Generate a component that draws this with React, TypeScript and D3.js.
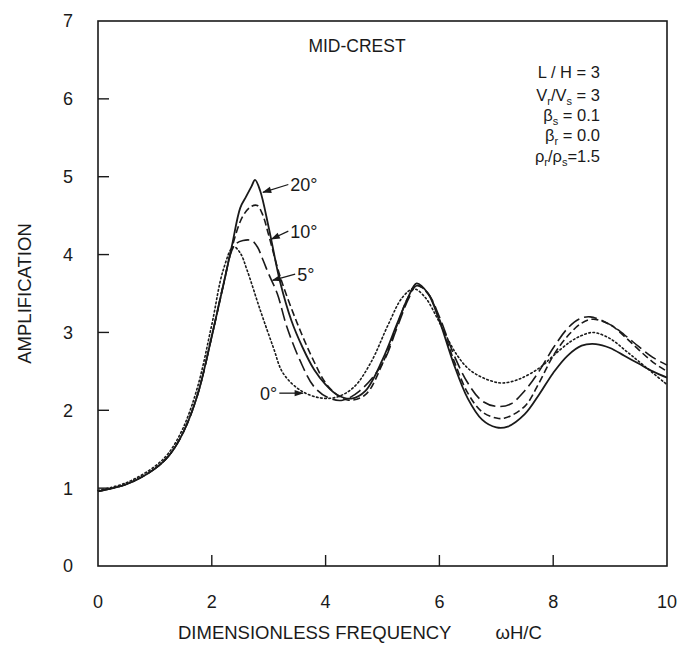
import React from "react";
import * as d3 from "d3";

const W = 681;
const H = 648;
const M = { left: 98, right: 14, top: 21, bottom: 82 };

const xTicks = [0, 2, 4, 6, 8, 10];
const yTicks = [0, 1, 2, 3, 4, 5, 6, 7];

// 20 degrees (solid)
const f20 = [0, 0.5, 1.0, 1.25, 1.5, 1.75, 2.0, 2.2, 2.35, 2.5, 2.6, 2.7, 2.76, 2.85, 3.0, 3.2, 3.4, 3.6, 3.8, 4.0, 4.2, 4.45, 4.7, 5.0, 5.25, 5.45, 5.6, 5.8, 6.0, 6.25, 6.5, 6.75, 7.0, 7.2, 7.5, 7.75, 8.0, 8.25, 8.5, 8.75, 9.0, 9.25, 9.5, 9.75, 10];
const a20 = [0.96, 1.05, 1.25, 1.42, 1.72, 2.2, 2.95, 3.6, 4.1, 4.6, 4.74, 4.88, 4.96, 4.82, 4.35, 3.65, 3.15, 2.8, 2.52, 2.33, 2.2, 2.15, 2.25, 2.65, 3.1, 3.45, 3.63, 3.5, 3.15, 2.6, 2.15, 1.88, 1.78, 1.79, 1.95, 2.2, 2.48, 2.7, 2.83, 2.85, 2.8, 2.7, 2.6, 2.5, 2.42];

// 10 degrees (short dash)
const f10 = [0, 0.5, 1.0, 1.25, 1.5, 1.75, 2.0, 2.2, 2.35, 2.55, 2.7, 2.8, 2.9, 3.0, 3.2, 3.5, 3.8, 4.0, 4.2, 4.4, 4.7, 5.0, 5.25, 5.45, 5.6, 5.8, 6.0, 6.25, 6.5, 6.75, 7.0, 7.15, 7.5, 7.75, 8.0, 8.25, 8.5, 8.7, 9.0, 9.25, 9.5, 9.75, 10];
const a10 = [0.96, 1.05, 1.25, 1.42, 1.72, 2.2, 2.95, 3.6, 4.08, 4.5, 4.62, 4.63, 4.5, 4.25, 3.72, 3.12, 2.62, 2.35, 2.2, 2.13, 2.2, 2.6, 3.08, 3.45, 3.61, 3.5, 3.17, 2.65, 2.22, 1.98, 1.9, 1.9, 2.05, 2.35, 2.7, 2.95, 3.12, 3.17, 3.1, 2.95, 2.78, 2.62, 2.5];

// 5 degrees (long dash)
const f5 = [0, 0.5, 1.0, 1.25, 1.5, 1.75, 2.0, 2.2, 2.4, 2.55, 2.7, 2.8, 2.9, 3.0, 3.15, 3.32, 3.55, 3.8, 4.05, 4.3, 4.6, 5.0, 5.25, 5.45, 5.6, 5.8, 6.0, 6.25, 6.5, 6.75, 7.0, 7.25, 7.5, 7.75, 8.0, 8.25, 8.45, 8.65, 9.0, 9.25, 9.5, 9.75, 10];
const a5 = [0.96, 1.05, 1.25, 1.42, 1.72, 2.2, 2.95, 3.6, 4.12, 4.18, 4.18, 4.1, 3.93, 3.75, 3.5, 3.07, 2.64, 2.3, 2.16, 2.13, 2.25, 2.6, 3.05, 3.42, 3.6, 3.5, 3.2, 2.72, 2.35, 2.12, 2.05, 2.08, 2.25, 2.5, 2.8, 3.05, 3.17, 3.2, 3.1, 2.97, 2.82, 2.68, 2.58];

// 0 degrees (dotted)
const f0 = [0, 0.5, 1.0, 1.25, 1.5, 1.75, 2.0, 2.2, 2.38, 2.5, 2.62, 2.85, 3.08, 3.25, 3.55, 3.9, 4.2, 4.5, 4.8, 5.1, 5.35, 5.55, 5.75, 5.95, 6.1, 6.3, 6.5, 6.7, 6.9, 7.1, 7.4, 7.77, 8.0, 8.3, 8.5, 8.7, 9.0, 9.3, 9.6, 10];
const a0 = [0.97, 1.07, 1.28, 1.46, 1.78, 2.3, 3.1, 3.8, 4.1, 4.02, 3.8, 3.29, 2.81, 2.48, 2.26, 2.16, 2.17, 2.3, 2.62, 3.1, 3.45, 3.56, 3.45, 3.2, 2.98, 2.72, 2.54, 2.44, 2.38, 2.35, 2.4, 2.55, 2.7, 2.88, 2.96, 3.0, 2.92, 2.75, 2.57, 2.33];

const seriesNames = ["20°", "10°", "5°", "0°"];
const seriesFreq = [f20, f10, f5, f0];
const seriesAmp = [a20, a10, a5, a0];
const seriesDash = ["none", "7,3.5", "13,5", "1.6,2.6"];

// curve label anchors: [label x, label y, arrow tip x, arrow tip y] in data units
const labelX = [3.38, 3.38, 3.5, 2.8];
const labelY = [4.9, 4.3, 3.75, 2.22];
const tipX = [2.9, 3.05, 3.07, 3.6];
const tipY = [4.8, 4.2, 3.67, 2.22];

const FONT = "'Liberation Sans', Arial, Helvetica, sans-serif";

export default function App() {
  const x = d3.scaleLinear().domain([0, 10]).range([M.left, W - M.right]);
  const y = d3.scaleLinear().domain([0, 7]).range([H - M.bottom, M.top]);

  const line = d3
    .line<[number, number]>()
    .x((d) => x(d[0]))
    .y((d) => y(d[1]))
    .curve(d3.curveCatmullRom.alpha(0.5));

  const ink = "#1a1a1a";

  return (
    <svg
      width={W}
      height={H}
      style={{ position: "absolute", left: 0, top: 0, background: "#fff" }}
      fontFamily={FONT}
    >
      <defs>
        <marker id="ah" viewBox="0 0 10 10" refX="9" refY="5" markerWidth="9" markerHeight="7" orient="auto">
          <path d="M0,1.5 L10,5 L0,8.5 Z" fill={ink} />
        </marker>
      </defs>
      <rect x={0} y={0} width={W} height={H} fill="#fff" />

      {/* frame */}
      <rect
        x={x(0)}
        y={y(7)}
        width={x(10) - x(0)}
        height={y(0) - y(7)}
        fill="none"
        stroke={ink}
        strokeWidth={1.6}
      />

      {/* ticks */}
      {yTicks.filter((t) => t > 0 && t < 7).map((t) => (
        <line key={"yt" + t} x1={x(0)} x2={x(0) + 11} y1={y(t)} y2={y(t)} stroke={ink} strokeWidth={1.4} />
      ))}
      {xTicks.filter((t) => t > 0 && t < 10).map((t) => (
        <line key={"xt" + t} x1={x(t)} x2={x(t)} y1={y(0)} y2={y(0) - 11} stroke={ink} strokeWidth={1.4} />
      ))}

      {/* tick labels */}
      {yTicks.map((t) => (
        <text key={"yl" + t} x={68} y={y(t)} dy="0.36em" textAnchor="middle" fontSize={18} fill={ink}>
          {t}
        </text>
      ))}
      {xTicks.map((t) => (
        <text key={"xl" + t} x={x(t)} y={602} dy="0.36em" textAnchor="middle" fontSize={18} fill={ink}>
          {t}
        </text>
      ))}

      {/* axis titles */}
      <text
        transform={`translate(24, ${(y(0) + y(7)) / 2}) rotate(-90)`}
        textAnchor="middle"
        dy="0.36em"
        fontSize={18.5}
        fill={ink}
      >
        AMPLIFICATION
      </text>
      <text x={178} y={639} fontSize={18.5} fill={ink}>
        DIMENSIONLESS FREQUENCY
        <tspan dx={44}>ωH/C</tspan>
      </text>

      {/* curves */}
      {seriesFreq.map((fs, i) => {
        const pts: [number, number][] = fs.map((f, k) => [f, seriesAmp[i][k]]);
        return (
          <path
            key={seriesNames[i]}
            d={line(pts) || ""}
            fill="none"
            stroke={ink}
            strokeWidth={i === 0 ? 1.8 : 1.6}
            strokeDasharray={seriesDash[i]}
            strokeLinecap={i === 3 ? "round" : "butt"}
          />
        );
      })}

      {/* curve labels with arrows */}
      {seriesNames.map((n, i) => {
        const lx = x(labelX[i]);
        const ly = y(labelY[i]);
        const tx = x(tipX[i]);
        const ty = y(tipY[i]);
        const right = i === 3;
        return (
          <g key={"lab" + n}>
            <line
              x1={right ? lx + 22 : lx - 2}
              y1={ly}
              x2={tx}
              y2={ty}
              stroke={ink}
              strokeWidth={1.3}
              markerEnd="url(#ah)"
            />
            <text x={right ? lx + 20 : lx} y={ly} dy="0.36em" textAnchor={right ? "end" : "start"} fontSize={18} fill={ink}>
              {n}
            </text>
          </g>
        );
      })}

      {/* title */}
      <text x={357} y={52} textAnchor="middle" fontSize={17.5} fill={ink}>
        MID-CREST
      </text>

      {/* parameters */}
      <g fontSize={16.5} fill={ink} textAnchor="end">
        <text x={600} y={78}>L / H = 3</text>
        <text x={600} y={101}>
          V<tspan fontSize={11} dy={4}>r</tspan>
          <tspan dy={-4}>/V</tspan>
          <tspan fontSize={11} dy={4}>s</tspan>
          <tspan dy={-4}>{"\u00a0= 3"}</tspan>
        </text>
        <text x={600} y={121}>
          β<tspan fontSize={11} dy={4}>s</tspan>
          <tspan dy={-4}>{"\u00a0= 0.1"}</tspan>
        </text>
        <text x={600} y={141}>
          β<tspan fontSize={11} dy={4}>r</tspan>
          <tspan dy={-4}>{"\u00a0= 0.0"}</tspan>
        </text>
        <text x={600} y={162}>
          ρ<tspan fontSize={11} dy={4}>r</tspan>
          <tspan dy={-4}>/ρ</tspan>
          <tspan fontSize={11} dy={4}>s</tspan>
          <tspan dy={-4}>=1.5</tspan>
        </text>
      </g>
    </svg>
  );
}
